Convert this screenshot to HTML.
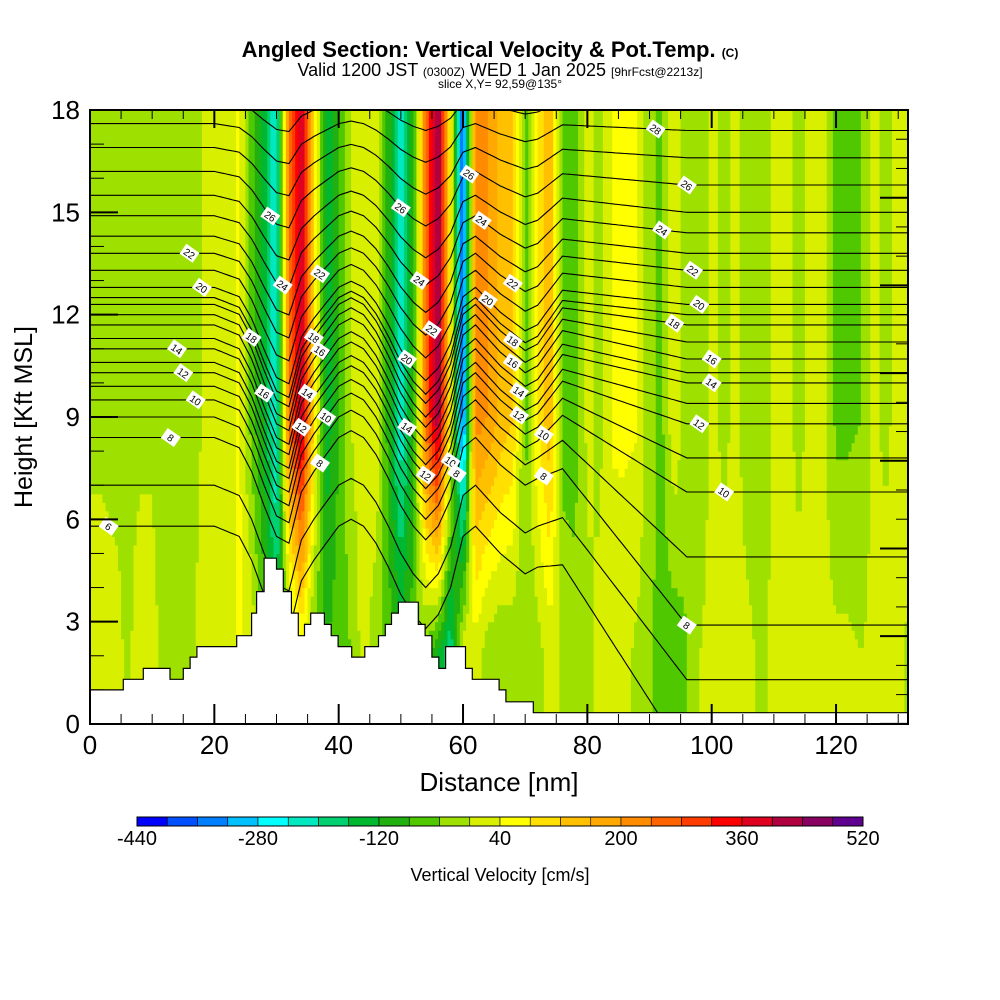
<!DOCTYPE html>
<html><head><meta charset="utf-8"><style>
body{margin:0;background:#fff;}
svg{display:block;font-family:"Liberation Sans",sans-serif;}
</style></head><body>
<svg id="chart" width="1000" height="1000" viewBox="0 0 1000 1000">
<rect width="1000" height="1000" fill="#fff"/>
<text x="490" y="57" text-anchor="middle" font-size="22" font-weight="bold">Angled Section: Vertical Velocity &amp; Pot.Temp. <tspan font-size="12">(C)</tspan></text>
<text x="500" y="76" text-anchor="middle" font-size="18">Valid 1200 JST <tspan font-size="12">(0300Z)</tspan> WED 1 Jan 2025 <tspan font-size="12">[9hrFcst@2213z]</tspan></text>
<text x="500" y="88" text-anchor="middle" font-size="12">slice X,Y= 92,59@135°</text>
<defs><clipPath id="pc"><rect x="90" y="110" width="818" height="614"/></clipPath></defs>
<g id="field" clip-path="url(#pc)"></g>
<g id="contours" clip-path="url(#pc)"></g>
<g id="terrain" clip-path="url(#pc)"></g>
<g id="labels" clip-path="url(#pc)"></g>
<g id="axes"></g>
<g id="cbar"></g>
<text x="32" y="417" text-anchor="middle" font-size="25" transform="rotate(-90 32 417)">Height [Kft MSL]</text>
<text x="499" y="791" text-anchor="middle" font-size="26">Distance [nm]</text>
<text x="500" y="881" text-anchor="middle" font-size="18">Vertical Velocity [cm/s]</text>
</svg>
<script>
// ---- data ----
const knotNm = [];
for (let i = 0; i <= 66; i++) knotNm.push(i * 2);
const wHigh = [-10,-10,-20,-10,-10,-10,-30,-40,-10,0,10,20,50,-60,-130,-250,250,420,100,-150,-80,0,30,40,-100,-240,-100,250,450,60,-380,220,200,150,120,-60,80,150,-60,-60,10,-10,45,50,45,-30,-50,40,-30,-30,10,-10,10,-30,-30,10,10,-10,10,10,-50,-50,-40,10,-10,15,15];
const wLow = [20,20,20,-10,20,20,-20,-40,-10,10,20,20,50,30,-60,-150,-60,30,-60,-80,-60,-40,20,-30,-60,-100,-60,-60,-120,-200,40,20,-30,-40,-30,-30,-20,20,-10,-20,-10,10,20,10,-10,-30,-60,-70,-40,0,10,20,20,10,-10,10,20,10,20,20,10,10,0,10,20,10,-10];
const binColors = ["#0000ff","#0050ff","#0080ff","#00c0ff","#00ffff","#00e8c0","#00d070","#00b830","#20b010","#50c800","#9ee000","#d8f000","#ffff00","#ffe000","#ffc000","#ffa800","#ff8c00","#ff6400","#ff3c00","#ff0000","#e00020","#b00040","#880060","#600090"];
const cbarLabels = [-440,-280,-120,40,200,360,520];
const thetaLevels = [6,7,8,9,10,11,12,13,14,15,16,17,18,19,20,21,22,23,24,25,26,27,28,29,30];
const thetaLeft  = [5.8,7.0,8.4,9.0,9.5,9.9,10.3,10.6,11.0,11.3,11.7,12.0,12.3,12.5,12.8,13.3,13.8,14.3,14.9,15.5,16.2,16.9,17.6,18.3,19.0];
const thetaRight = [-1,1.3,2.9,4.9,6.8,7.8,8.8,9.4,10.0,10.3,10.7,11.2,11.7,12.0,12.3,12.8,13.3,13.8,14.4,15.0,15.8,16.6,17.4,18.2,19.0];
const dispKnots = [0,20,24,26,28,30,32,34,36,38,40,42,44,46,48,50,52,54,56,58,60,62,64,66,68,70,72,74,76,132];
const dispVals  = [0,0,-0.3,-1,-2,-2.9,-3.1,-1.6,-1.0,-0.5,0,0.2,0,-0.5,-1.2,-2,-2.6,-3,-2.6,-1.8,-0.3,0,-0.4,-0.8,-1.1,-1.4,-1.2,-0.6,0,0];
const terrX = [0,5.36,8.58,12.87,15.0,16.1,17.2,23.6,26.0,26.8,28.0,30.0,31.1,32.4,33.5,34.5,35.5,37.7,38.8,39.9,42.1,44.2,46.4,47.5,48.5,49.6,52.8,53.9,55.0,56.1,57.2,60.4,61.5,65.8,66.9,71.3];
const terrH = [1.0,1.31,1.63,1.31,1.63,1.96,2.27,2.59,3.25,3.88,4.86,4.54,3.88,3.25,2.59,2.92,3.25,2.92,2.59,2.27,1.96,2.27,2.59,2.92,3.25,3.57,2.92,2.59,1.96,1.63,2.27,1.63,1.31,1.0,0.65,0.33];
const labTheta = [6,8,10,12,14,20,22,18,16,24,26,22,18,16,14,12,10,8,26,24,22,20,14,12,10,8,26,24,20,22,18,16,14,12,10,8,28,26,24,22,20,18,16,14,12,10,8];
const labNm    = [3,13,17,15,14,18,16,26,28,31,29,37,36,37,35,34,38,37,50,53,55,51,51,54,58,59,61,63,64,68,68,68,69,69,73,73,91,96,92,97,98,94,100,100,98,102,96];

// ---- scales ----
const X0=90,X1=908,Y0=724,Y1=110;
const xs = nm => X0 + nm*6.217;
const ys = h => Y0 - h*(Y0-Y1)/18;
const NS='http://www.w3.org/2000/svg';
function mk(tag, attrs, parent){const e=document.createElementNS(NS,tag);for(const k in attrs)e.setAttribute(k,attrs[k]);parent.appendChild(e);return e;}
function interp(xa, ya, x){if(x<=xa[0])return ya[0];for(let i=1;i<xa.length;i++){if(x<=xa[i]){const t=(x-xa[i-1])/(xa[i]-xa[i-1]);return ya[i-1]+t*(ya[i]-ya[i-1]);}}return ya[ya.length-1];}
function binOf(v){let b=Math.floor((v+440)/40);return Math.max(0,Math.min(23,b));}

// ---- field ----
const field=document.getElementById('field');
const dx=0.5, dh=0.25;
for(let nm=0; nm<132.5; nm+=dx){
  const hi=interp(knotNm,wHigh,nm+dx/2), lo=interp(knotNm,wLow,nm+dx/2);
  let runStart=0, runBin=null;
  for(let h=0; h<=18; h+=dh){
    let b=null;
    if(h<18){const t=Math.max(0,Math.min(1,(h+dh/2-2)/7));b=binOf(lo+t*(hi-lo));}
    if(b!==runBin){
      if(runBin!==null){
        const r=mk('rect',{x:xs(nm).toFixed(2),y:ys(h).toFixed(2),width:(dx*6.217+0.6).toFixed(2),height:(ys(runStart)-ys(h)+0.6).toFixed(2),fill:binColors[runBin]},field);
        
        
      }
      runBin=b; runStart=h;
    }
  }
}

// ---- contours ----
function thetaHeight(i, nm){
  const s=Math.max(0,Math.min(1,(nm-72)/24));
  const base=thetaLeft[i]+s*(thetaRight[i]-thetaLeft[i]);
  const A=Math.max(0.3,Math.min(1,1-Math.max(0,base-12)/9));
  return base+interp(dispKnots,dispVals,nm)*A;
}
const cg=document.getElementById('contours');
thetaLevels.forEach((th,i)=>{
  let pts=[];
  for(let nm=0; nm<=132; nm+=0.5) pts.push(xs(nm).toFixed(1)+','+ys(thetaHeight(i,nm)).toFixed(1));
  const p=mk('polyline',{points:pts.join(' '),fill:'none',stroke:'#000','stroke-width':1.1},cg);
  
  
});

// ---- terrain ----
const tg=document.getElementById('terrain');
let tp=[xs(0)+','+(Y0+2)];
for(let i=0;i<terrX.length;i++){
  const xa=xs(terrX[i]), xb= i+1<terrX.length? xs(terrX[i+1]) : X1+2;
  tp.push(xa.toFixed(1)+','+ys(terrH[i]).toFixed(1));
  tp.push(xb.toFixed(1)+','+ys(terrH[i]).toFixed(1));
}
tp.push((X1+2)+','+(Y0+2));
const tpoly=mk('polygon',{points:tp.join(' '),fill:'#fff',stroke:'#000','stroke-width':1.2},tg);



// ---- labels ----
const lg=document.getElementById('labels');
labTheta.forEach((th,k)=>{
  const i=thetaLevels.indexOf(th), nm=labNm[k];
  const x=xs(nm), y=ys(thetaHeight(i,nm));
  const g=mk('g',{transform:`translate(${x.toFixed(1)},${y.toFixed(1)}) rotate(35)`},lg);
  
  
  mk('rect',{x:-8,y:-6,width:16,height:12,fill:'#fff'},g);
  const t=mk('text',{x:0,y:4,'text-anchor':'middle','font-size':10},g);
  t.textContent=th;
});

// ---- axes ----
const ax=document.getElementById('axes');
const fr=mk('rect',{x:X0,y:Y1,width:X1-X0,height:Y0-Y1,fill:'none',stroke:'#000','stroke-width':2},ax);


for(let nm=0; nm<=130; nm+=5){
  const x=xs(nm), major=nm%20===0;
  mk('line',{x1:x,y1:Y0,x2:x,y2:Y0-(major?20:10),stroke:'#000','stroke-width':major?2:1},ax);
  mk('line',{x1:x,y1:Y1,x2:x,y2:Y1+(major?18:9),stroke:'#000','stroke-width':major?2:1},ax);
  if(major){const t=mk('text',{x:x,y:Y0+30,'text-anchor':'middle','font-size':26},ax);t.textContent=nm;
    }
}
for(let h=0; h<=18; h++){
  const y=ys(h), major=h%3===0;
  mk('line',{x1:X0,y1:y,x2:X0+(major?28:14),y2:y,stroke:'#000','stroke-width':major?2:1},ax);
  if(major){const t=mk('text',{x:X0-10,y:y+9,'text-anchor':'end','font-size':26},ax);t.textContent=h;
    }
}
for(let k=0; Y1+k*29.23<Y0; k++){
  const y=Y1+k*29.23, major=k%3===0;
  mk('line',{x1:X1,y1:y,x2:X1-(major?28:12),y2:y,stroke:'#000','stroke-width':major?2:1},ax);
}

// ---- colorbar ----
const cb=document.getElementById('cbar');
const CX0=137,CX1=863,CY=817,CH=9, bw=(CX1-CX0)/24;
binColors.forEach((c,i)=>{
  const r=mk('rect',{x:CX0+i*bw,y:CY,width:bw,height:CH,fill:c,stroke:'#000','stroke-width':0.6},cb);
  
  
});
mk('rect',{x:CX0,y:CY,width:CX1-CX0,height:CH,fill:'none',stroke:'#000','stroke-width':1},cb);
cbarLabels.forEach(v=>{
  const x=CX0+(v+440)/960*(CX1-CX0);
  const t=mk('text',{x:x,y:845,'text-anchor':'middle','font-size':20},cb);
  t.textContent=v;
  
  
});
</script>
</body></html>
